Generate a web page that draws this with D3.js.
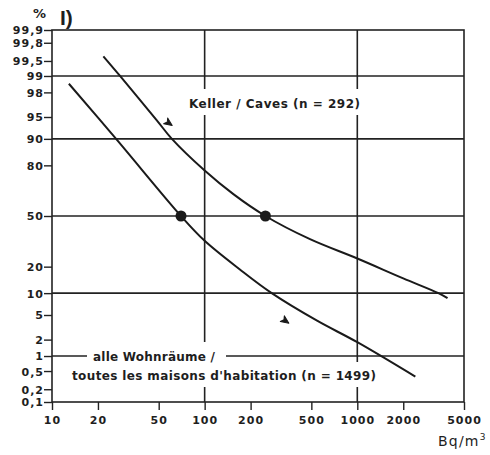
<!DOCTYPE html>
<html>
<head>
<meta charset="utf-8">
<script src="https://cdn.jsdelivr.net/npm/d3@7"></script>
<style>
  html, body { margin: 0; padding: 0; background: #fff; }
  svg { display: block; }
  text { fill: #1e1e1e; }
</style>
</head>
<body>
<svg id="chart" width="490" height="455"></svg>
<script>
// ---- data ----
const xTicks = [10, 20, 50, 100, 200, 500, 1000, 2000, 5000];
const xTickLabels = ["10", "20", "50", "100", "200", "500", "1000", "2000", "5000"];
const yTicks = [0.1, 0.2, 0.5, 1, 2, 5, 10, 20, 50, 80, 90, 95, 98, 99, 99.5, 99.8, 99.9];
const yTickLabels = ["0,1", "0,2", "0,5", "1", "2", "5", "10", "20", "50", "80", "90", "95", "98", "99", "99,5", "99,8", "99,9"];
const gridX = [100, 1000];
const gridY = [1, 10, 50, 90, 99];
// Keller / Caves (n = 292): [Bq/m3, %]
const kellerBq  = [21.7, 27.9, 48.6, 61, 100, 155, 250, 490, 1000, 2000, 3400, 3900];
const kellerPct = [99.6, 99, 94.4, 90, 77.5, 64, 50, 35, 24, 15, 10, 8.6];
// alle Wohnräume (n = 1499)
const wohnBq  = [12.9, 26.3, 70, 100, 171, 275, 545, 1000, 2400];
const wohnPct = [98.6, 90, 50, 34, 18.6, 10, 4.1, 1.8, 0.38];
// medians (dots)
const medianBq  = [70, 250];
const medianPct = [50, 50];
// small arrow marks
const arrowBq  = [58, 337];
const arrowPct = [93.9, 4.1];

// ---- probit ----
function probit(p) {
  const a = [-3.969683028665376e+01, 2.209460984245205e+02, -2.759285104469687e+02, 1.383577518672690e+02, -3.066479806614716e+01, 2.506628277459239e+00];
  const b = [-5.447609879822406e+01, 1.615858368580409e+02, -1.556989798598866e+02, 6.680131188771972e+01, -1.328068155288572e+01];
  const c = [-7.784894002430293e-03, -3.223964580411365e-01, -2.400758277161838e+00, -2.549732539343734e+00, 4.374664141464968e+00, 2.938163982698783e+00];
  const d = [7.784695709041462e-03, 3.224671290700398e-01, 2.445134137142996e+00, 3.754408661907416e+00];
  const pl = 0.02425, ph = 1 - pl;
  let q, r;
  if (p < pl) {
    q = Math.sqrt(-2 * Math.log(p));
    return (((((c[0]*q+c[1])*q+c[2])*q+c[3])*q+c[4])*q+c[5]) / ((((d[0]*q+d[1])*q+d[2])*q+d[3])*q+1);
  } else if (p <= ph) {
    q = p - 0.5; r = q*q;
    return (((((a[0]*r+a[1])*r+a[2])*r+a[3])*r+a[4])*r+a[5])*q / (((((b[0]*r+b[1])*r+b[2])*r+b[3])*r+b[4])*r+1);
  } else {
    q = Math.sqrt(-2 * Math.log(1 - p));
    return -(((((c[0]*q+c[1])*q+c[2])*q+c[3])*q+c[4])*q+c[5]) / ((((d[0]*q+d[1])*q+d[2])*q+d[3])*q+1);
  }
}

// ---- layout ----
const L = 52, R = 464, T = 30, B = 402;
const svg = d3.select("#chart");
const x = d3.scaleLog().domain([10, 5000]).range([L, R]);
const zScale = d3.scaleLinear().domain([probit(0.001), probit(0.999)]).range([B, T]);
const y = pct => zScale(probit(pct / 100));

const ink = "#222";
const gridW = 1.6;
const bold = "'DejaVu Sans', sans-serif";

// grid lines
const g = svg.append("g");
g.selectAll(".gx").data(gridX).enter().append("line")
  .attr("x1", d => x(d)).attr("x2", d => x(d)).attr("y1", T).attr("y2", B)
  .attr("stroke", ink).attr("stroke-width", gridW);
g.selectAll(".gy").data(gridY).enter().append("line")
  .attr("x1", L).attr("x2", R).attr("y1", d => y(d)).attr("y2", d => y(d))
  .attr("stroke", ink).attr("stroke-width", gridW);

// label backgrounds (interrupt grid lines)
const bg = svg.append("g").attr("fill", "#fff");
bg.append("rect").attr("x", 183).attr("y", 89).attr("width", 183).attr("height", 26);
bg.append("rect").attr("x", 87).attr("y", 342).attr("width", 139).attr("height", 24);
bg.append("rect").attr("x", 66).attr("y", 362).attr("width", 316).attr("height", 25);

// frame
svg.append("rect").attr("x", L).attr("y", T).attr("width", R - L).attr("height", B - T)
  .attr("fill", "none").attr("stroke", ink).attr("stroke-width", gridW);

// axes
const xAxis = d3.axisBottom(x).tickValues(xTicks).tickSize(8).tickFormat((d, i) => xTickLabels[i]);
const xa = svg.append("g").attr("transform", `translate(0,${B})`).call(xAxis);
xa.select(".domain").remove();
xa.selectAll("line").attr("stroke", ink).attr("stroke-width", 1.4);
xa.selectAll("text").attr("font-family", bold).attr("font-weight", "bold").attr("font-size", 11)
  .attr("letter-spacing", 1).attr("fill", ink).attr("y", 14).attr("dy", "0.71em");

const yAxis = d3.axisLeft(zScale).tickValues(yTicks.map(p => probit(p / 100))).tickSize(8)
  .tickFormat((d, i) => yTickLabels[i]);
const ya = svg.append("g").attr("transform", `translate(${L},0)`).call(yAxis);
ya.select(".domain").remove();
ya.selectAll("line").attr("stroke", ink).attr("stroke-width", 1.4);
ya.selectAll("text").attr("font-family", bold).attr("font-weight", "bold").attr("font-size", 11)
  .attr("letter-spacing", 1).attr("fill", ink).attr("x", -8).attr("dy", "0.36em");

// curves
const line = d3.line().x(d => x(d[0])).y(d => y(d[1])).curve(d3.curveCatmullRom.alpha(0.5));
const kellerData = kellerBq.map((v, i) => [v, kellerPct[i]]);
const wohnData = wohnBq.map((v, i) => [v, wohnPct[i]]);
[kellerData, wohnData].forEach(data => {
  svg.append("path").datum(data).attr("d", line)
    .attr("fill", "none").attr("stroke", "#1a1a1a").attr("stroke-width", 2);
});

// median dots
svg.selectAll(".dot").data(medianBq).enter().append("circle")
  .attr("cx", d => x(d)).attr("cy", (d, i) => y(medianPct[i])).attr("r", 5.5).attr("fill", "#1a1a1a");

// arrow marks
svg.selectAll(".arw").data(arrowBq).enter().append("path")
  .attr("transform", (d, i) => `translate(${x(d)},${y(arrowPct[i])}) rotate(35)`)
  .attr("d", "M4.5,0 L-3.5,-3.5 L-1.5,0 L-3.5,3.5 Z").attr("fill", "#1a1a1a")
  .attr("stroke", "#1a1a1a").attr("stroke-width", 1).attr("stroke-linejoin", "round");

// labels
function label(txt, xs, yb, len, size) {
  svg.append("text").attr("x", xs).attr("y", yb).text(txt)
    .attr("font-family", bold).attr("font-weight", "bold").attr("font-size", size || 12)
    .attr("textLength", len).attr("lengthAdjust", "spacing");
}
label("Keller / Caves (n = 292)", 189, 108, 171);
label("alle Wohnräume /", 93, 361, 122);
label("toutes les maisons d'habitation (n = 1499)", 72, 380, 304);

svg.append("text").attr("x", 33).attr("y", 18).text("%")
  .attr("font-family", bold).attr("font-weight", "bold").attr("font-size", 13);
svg.append("text").attr("x", 60).attr("y", 25).text("I)")
  .attr("font-family", "'Liberation Sans', Arial, sans-serif").attr("font-weight", "bold").attr("font-size", 21);

const unit = svg.append("text").attr("x", 438).attr("y", 446)
  .attr("font-family", "'DejaVu Sans', sans-serif").attr("font-size", 14).attr("fill", ink);
unit.append("tspan").text("Bq/m").attr("letter-spacing", 1.2);
unit.append("tspan").text("3").attr("font-size", 9).attr("dy", -6);
</script>
</body>
</html>
